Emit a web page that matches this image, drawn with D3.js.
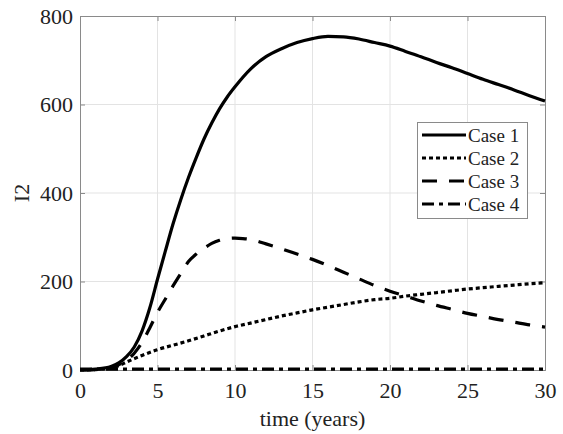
<!DOCTYPE html>
<html><head><meta charset="utf-8">
<script src="https://cdn.jsdelivr.net/npm/d3@7"></script>
<style>body{margin:0;background:#fff}svg{display:block}text{font-family:"Liberation Serif","Times New Roman",serif;fill:#222}</style>
</head><body><svg id="c" width="563" height="434"></svg>
<script>
const xTicks=[0,5,10,15,20,25,30];
const yTicks=[0,200,400,600,800];
const seriesNames=["Case 1","Case 2","Case 3","Case 4"];
const t1=[0,1,2,2.5,3,3.5,4,4.5,5,5.5,6,6.5,7,7.5,8,8.5,9,9.5,10,11,12,13,14,15,16,17,18,19,20,21,22,23,24,25,26,27,28,29,30];
const case1=[0,2,8,16,30,52,88,140,205,268,330,385,435,480,522,558,590,617,640,680,708,726,740,749,754,753,748,740,732,720,708,695,683,670,657,645,633,620,608];
const t2=[0,1,2,2.5,3,4,5,6,7,8,9,10,11,12,13,14,15,16,17,18,19,20,21,22,23,24,25,26,27,28,29,30];
const case2=[0,1,5,10,18,33,46,56,66,77,88,98,106,114,122,129,136,142,148,154,159,162,167,171,175,179,183,186,189,192,195,197];
const t3=[0,1,2,2.5,3,3.5,4,4.5,5,5.5,6,6.5,7,7.5,8,8.5,9,9.5,10,10.5,11,12,13,14,15,16,17,18,19,20,21,22,23,24,25,26,27,28,29,30];
const case3=[0,1,5,12,22,38,62,95,130,160,190,218,245,262,275,286,293,297,298,297,295,285,274,262,250,236,221,206,191,178,167,156,146,137,128,121,114,108,102,97];
const t4=[0,5,10,15,20,25,30];
const case4=[2,2,2,2,2,2,2];

const svg=d3.select("#c");
const L=80,R=545,T=16,B=370;
const x=d3.scaleLinear().domain([0,30]).range([L,R]);
const y=d3.scaleLinear().domain([0,800]).range([B,T]);

// grid
svg.append("g").selectAll("line").data(xTicks.slice(1,-1)).join("line")
 .attr("x1",d=>x(d)).attr("x2",d=>x(d)).attr("y1",T).attr("y2",B).attr("stroke","#e3e3e3").attr("stroke-width",1);
svg.append("g").selectAll("line").data(yTicks.slice(1,-1)).join("line")
 .attr("y1",d=>y(d)).attr("y2",d=>y(d)).attr("x1",L).attr("x2",R).attr("stroke","#e3e3e3").attr("stroke-width",1);

// axes
svg.append("g").attr("transform",`translate(0,${B})`).call(d3.axisBottom(x).tickValues(xTicks).tickSize(-5).tickPadding(12));
svg.append("g").attr("transform",`translate(${L},0)`).call(d3.axisLeft(y).tickValues(yTicks).tickSize(-5).tickPadding(7));
svg.append("g").attr("transform",`translate(0,${T})`).call(d3.axisTop(x).tickValues(xTicks).tickSize(-5).tickFormat(""));
svg.append("g").attr("transform",`translate(${R},0)`).call(d3.axisRight(y).tickValues(yTicks).tickSize(-5).tickFormat(""));
svg.selectAll(".domain").attr("stroke","#8a8a8a");
svg.selectAll(".tick line").attr("stroke","#8a8a8a");
svg.selectAll(".tick text").style("font-size","22px").style("font-family","'Liberation Serif',serif").style("fill","#222");

const line=d3.line().x(d=>x(d[0])).y(d=>y(d[1])).curve(d3.curveMonotoneX);
const styles=[
 {dash:null},
 {dash:"4,3"},
 {dash:"15,12"},
 {dash:"12,5,4,5"}
];
const series=[[t1,case1],[t2,case2],[t3,case3],[t4,case4]];
series.forEach((s,i)=>{
  const pts=s[0].map((t,j)=>[t,s[1][j]]);
  svg.append("path").datum(pts).attr("d",line).attr("fill","none").attr("stroke","#000")
   .attr("stroke-width",3.2).attr("stroke-dasharray",styles[i].dash);
});

// labels
svg.append("text").attr("x",(L+R)/2).attr("y",426).attr("text-anchor","middle").style("font-size","22px").text("time (years)");
svg.append("text").attr("transform",`translate(29,${(T+B)/2}) rotate(-90)`).attr("text-anchor","middle").style("font-size","22px").text("I2");

// legend
const lg=svg.append("g");
lg.append("rect").attr("x",417.5).attr("y",122.5).attr("width",110).attr("height",96).attr("fill","#fff").attr("stroke","#8a8a8a");
seriesNames.forEach((n,i)=>{
  const yy=135+i*23;
  lg.append("line").attr("x1",422).attr("x2",466).attr("y1",yy).attr("y2",yy).attr("stroke","#000").attr("stroke-width",3.2).attr("stroke-dasharray",styles[i].dash);
  lg.append("text").attr("x",468).attr("y",yy+6.5).style("font-size","19px").text(n);
});
</script></body></html>
